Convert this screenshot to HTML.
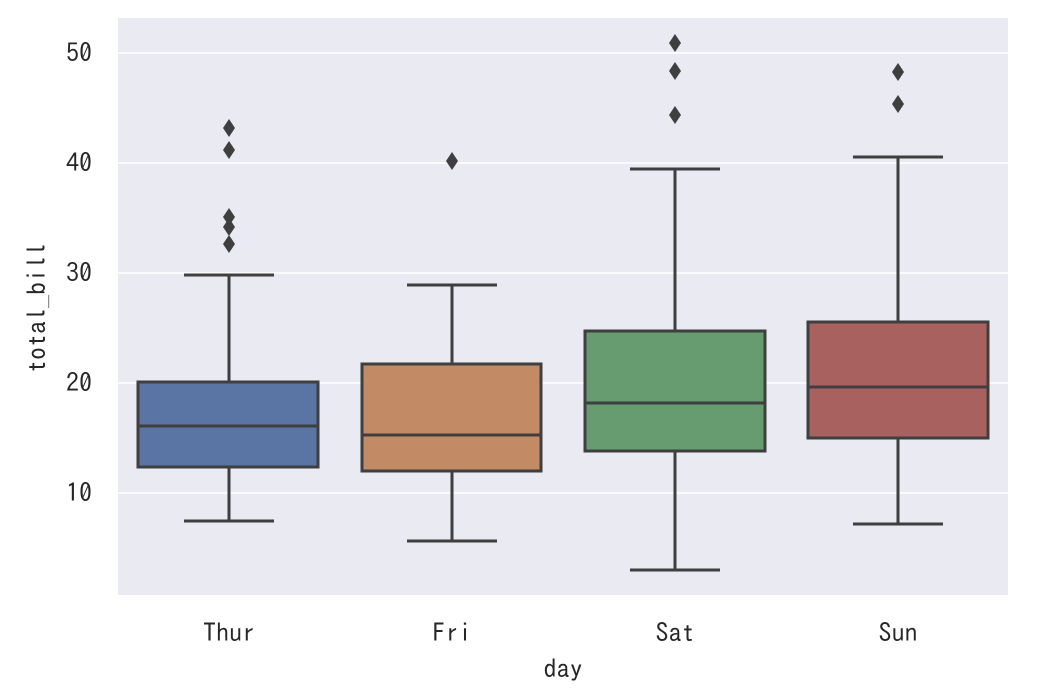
<!DOCTYPE html>
<html><head><meta charset="utf-8"><style>body{margin:0;background:#fff}svg{display:block}text{font-family:"IPAGothic","Liberation Mono",monospace;font-size:26px;fill:#262626}</style></head><body>
<svg width="1040" height="700" xmlns="http://www.w3.org/2000/svg">
<rect x="118" y="18" width="890" height="577" fill="#eaeaf2"/>
<g stroke="#fff" stroke-width="1.6">
<line x1="118" x2="1008" y1="53" y2="53"/><line x1="118" x2="1008" y1="163" y2="163"/><line x1="118" x2="1008" y1="273" y2="273"/><line x1="118" x2="1008" y1="383" y2="383"/><line x1="118" x2="1008" y1="493" y2="493"/>
</g>
<g text-anchor="end"><text x="92" y="62">50</text><text x="92" y="172">40</text><text x="92" y="282">30</text><text x="92" y="392">20</text><text x="92" y="502">10</text></g>
<g text-anchor="middle"><text x="229" y="642">Thur</text><text x="452" y="642">Fri</text><text x="675" y="642">Sat</text><text x="898" y="642">Sun</text>
<text x="563" y="678">day</text>
<text transform="translate(46,308) rotate(-90)">total_bill</text></g>
<g stroke="#3f3f3f" stroke-width="3" fill="none">
<line x1="229" x2="229" y1="275" y2="382"/><line x1="229" x2="229" y1="467" y2="521"/><line x1="184" x2="274" y1="275" y2="275"/><line x1="184" x2="274" y1="521" y2="521"/>
<rect x="138" y="382" width="180" height="85" fill="#5a75a3"/><line x1="138" x2="318" y1="426" y2="426"/>
<line x1="452" x2="452" y1="285" y2="364"/><line x1="452" x2="452" y1="471" y2="541"/><line x1="407" x2="497" y1="285" y2="285"/><line x1="407" x2="497" y1="541" y2="541"/>
<rect x="362" y="364" width="179" height="107" fill="#c38a66"/><line x1="362" x2="541" y1="435" y2="435"/>
<line x1="675" x2="675" y1="169" y2="331"/><line x1="675" x2="675" y1="451" y2="570"/><line x1="630" x2="720" y1="169" y2="169"/><line x1="630" x2="720" y1="570" y2="570"/>
<rect x="585" y="331" width="180" height="120" fill="#669c70"/><line x1="585" x2="765" y1="403" y2="403"/>
<line x1="898" x2="898" y1="157" y2="322"/><line x1="898" x2="898" y1="438" y2="524"/><line x1="853" x2="943" y1="157" y2="157"/><line x1="853" x2="943" y1="524" y2="524"/>
<rect x="808" y="322" width="180" height="116" fill="#a96160"/><line x1="808" x2="988" y1="387" y2="387"/>
</g>
<g fill="#3f3f3f">
<path d="M0,-9 L6,0 L0,9 L-6,0Z" transform="translate(229,128)"/>
<path d="M0,-9 L6,0 L0,9 L-6,0Z" transform="translate(229,150)"/>
<path d="M0,-9 L6,0 L0,9 L-6,0Z" transform="translate(229,217)"/>
<path d="M0,-9 L6,0 L0,9 L-6,0Z" transform="translate(229,227)"/>
<path d="M0,-9 L6,0 L0,9 L-6,0Z" transform="translate(229,244)"/>
<path d="M0,-9 L6,0 L0,9 L-6,0Z" transform="translate(452,161)"/>
<path d="M0,-9 L6,0 L0,9 L-6,0Z" transform="translate(675,43)"/>
<path d="M0,-9 L6,0 L0,9 L-6,0Z" transform="translate(675,71)"/>
<path d="M0,-9 L6,0 L0,9 L-6,0Z" transform="translate(675,115)"/>
<path d="M0,-9 L6,0 L0,9 L-6,0Z" transform="translate(898,72)"/>
<path d="M0,-9 L6,0 L0,9 L-6,0Z" transform="translate(898,104)"/>
</g>
</svg></body></html>
